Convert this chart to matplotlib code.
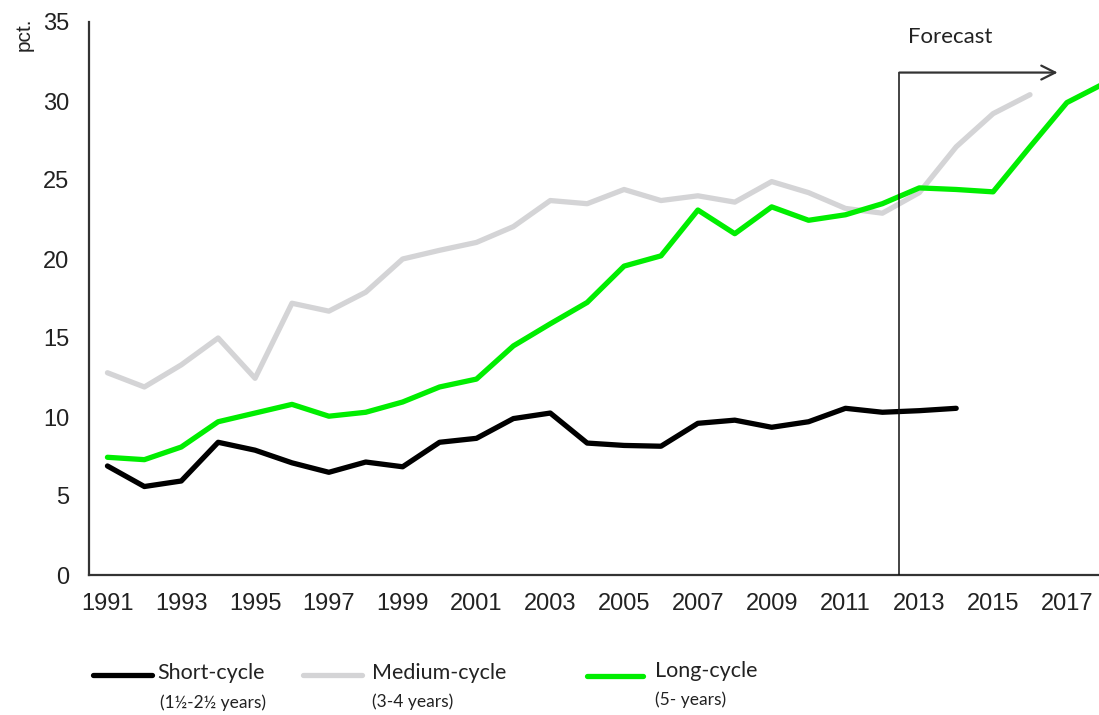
import matplotlib
matplotlib.use("Agg")
import matplotlib.pyplot as plt
from matplotlib.lines import Line2D
import numpy as np

# ---- data ----
years_short = list(range(1991, 2015))
short_cycle = [6.9, 5.6, 5.95, 8.4, 7.9, 7.1, 6.5, 7.15, 6.85, 8.4, 8.65, 9.9,
               10.25, 8.35, 8.2, 8.15, 9.6, 9.8, 9.35, 9.7, 10.55, 10.3, 10.4, 10.55]

years_medium = list(range(1991, 2017))
medium_cycle = [12.8, 11.9, 13.3, 15.0, 12.45, 17.2, 16.7, 17.9, 20.0, 20.55, 21.05, 22.05,
                23.7, 23.5, 24.4, 23.7, 24.0, 23.6, 24.9, 24.2, 23.2, 22.9, 24.2, 27.1,
                29.2, 30.4]

years_long = list(range(1991, 2019))
long_cycle = [7.45, 7.3, 8.1, 9.7, 10.25, 10.8, 10.05, 10.3, 10.95, 11.9, 12.4, 14.5,
              15.9, 17.25, 19.55, 20.2, 23.1, 21.6, 23.3, 22.45, 22.8, 23.5, 24.5, 24.4,
              24.25, 27.1, 29.9, 31.1]

xtick_years = list(range(1991, 2018, 2))
yticks = [0, 5, 10, 15, 20, 25, 30, 35]

legend_labels = ["Short-cycle", "Medium-cycle", "Long-cycle"]
legend_sub = ["(1½-2½ years)", "(3-4 years)", "(5- years)"]
forecast_start = 2012.46
forecast_end = 2016.75
forecast_top = 31.8

# ---- styling ----
W, H = 1099, 715
fig = plt.figure(figsize=(W / 100, H / 100), dpi=100)
ax = fig.add_axes([89 / W, (H - 575) / H, (W - 89) / W, (575 - 22) / H])

c_short, c_med, c_long = "#000000", "#d4d4d6", "#00ee00"
lw = 3.8
ax.plot(years_medium, medium_cycle, color=c_med, lw=lw, solid_capstyle="round", zorder=2)
ax.plot(years_long, long_cycle, color=c_long, lw=lw, solid_capstyle="round", zorder=3)
ax.plot(years_short, short_cycle, color=c_short, lw=lw, solid_capstyle="round", zorder=4)

ax.set_xlim(1990.5, 2017.87)
ax.set_ylim(0, 35)

tick_font = ["Liberation Sans Narrow", "Liberation Sans", "DejaVu Sans"]
ax.set_xticks(xtick_years)
ax.set_xticklabels([str(y) for y in xtick_years], family=tick_font, fontsize=17, color="#222222")
ax.set_yticks(yticks)
ax.set_yticklabels([str(v) for v in yticks], family=tick_font, fontsize=17, color="#222222")
ax.tick_params(axis="x", length=0, pad=13)
ax.tick_params(axis="y", length=0, pad=14)

for s in ["top", "right"]:
    ax.spines[s].set_visible(False)
for s in ["left", "bottom"]:
    ax.spines[s].set_color("#333333")
    ax.spines[s].set_linewidth(1.6)

# forecast marker
ax.plot([forecast_start, forecast_start], [0, forecast_top], color="#111111", lw=1.1, zorder=5)
ax.annotate("", xy=(forecast_end, forecast_top), xytext=(forecast_start, forecast_top),
            arrowprops=dict(arrowstyle="->,head_length=1.0,head_width=0.5",
                            color="#333333", lw=1.6, shrinkA=0, shrinkB=0), zorder=5)
ax.text(2012.7, 34.05, "Forecast", family=["Lato", "DejaVu Sans"], fontsize=16,
        color="#222222", ha="left", va="center")

# y label
fig.text(24 / W, 1 - 34 / H, "pct.", rotation=90, family=["Liberation Sans", "DejaVu Sans"],
         fontsize=15, color="#222222", ha="center", va="center")

# legend (manual)
leg_line_x = [(93, 152), (303, 362), (587, 643)]
leg_line_y = [675, 675, 676]
leg_text_x = [157, 372, 655]
leg_text_y = [673, 673, 671]
leg_sub_x = [160, 372, 655]
leg_sub_y = [703, 702, 700]
colors = [c_short, c_med, c_long]
for i in range(3):
    x0, x1 = leg_line_x[i]
    fig.add_artist(Line2D([x0 / W, x1 / W], [1 - leg_line_y[i] / H] * 2,
                          color=colors[i], lw=lw, solid_capstyle="round",
                          transform=fig.transFigure))
    fig.text(leg_text_x[i] / W, 1 - leg_text_y[i] / H, legend_labels[i],
             family=["Lato", "DejaVu Sans"], fontsize=15.5, color="#222222",
             ha="left", va="center")
    fig.text(leg_sub_x[i] / W, 1 - leg_sub_y[i] / H, legend_sub[i],
             family=["Lato", "DejaVu Sans"], fontsize=12.5, color="#222222",
             ha="left", va="center")

fig.savefig("out.png", dpi=100)
